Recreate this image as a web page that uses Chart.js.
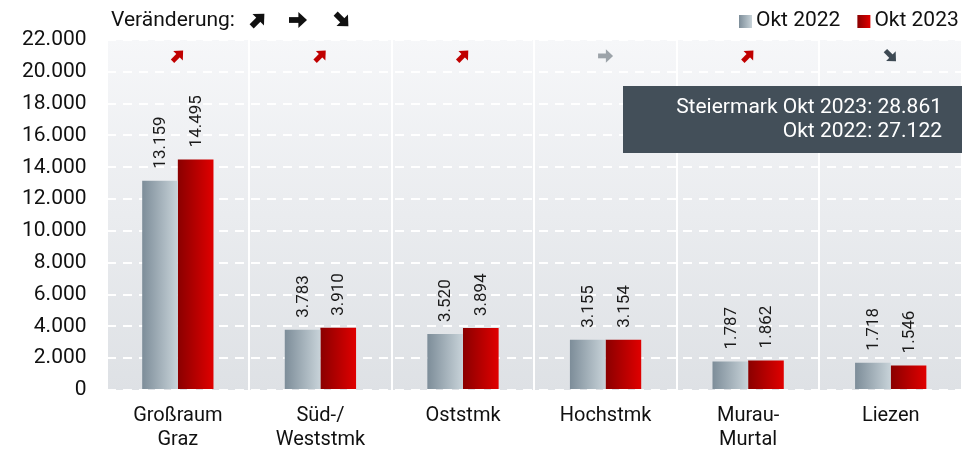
<!DOCTYPE html>
<html>
<head>
<meta charset="utf-8">
<title>Veränderung Okt 2022 / Okt 2023</title>
<script src="https://cdn.jsdelivr.net/npm/chart.js"></script>
<style>
  html, body { margin: 0; padding: 0; background: #fff; }
  #wrap { width: 978px; height: 449px; }
</style>
</head>
<body>
<div id="wrap"><canvas id="chart" width="978" height="449"></canvas></div>
<script>
// data
const regions = [["Großraum", "Graz"], ["Süd-/", "Weststmk"], "Oststmk", "Hochstmk", ["Murau-", "Murtal"], "Liezen"];
const okt2022 = [13159, 3783, 3520, 3155, 1787, 1718];
const okt2023 = [14495, 3910, 3894, 3154, 1862, 1546];
const trend = ["up", "up", "up", "flat", "up", "down"];
const seriesNames = ["Okt 2022", "Okt 2023"];
const totalLines = ["Steiermark Okt 2023: 28.861", "Okt 2022: 27.122"];
const yMax = 22000;
const yStep = 2000;

const FONT = "Roboto, 'Noto Sans', sans-serif";

function fmt(n) {
    return String(n).replace(/\B(?=(\d{3})+(?!\d))/g, ".");
}

const trendColor = { up: "#c00000", flat: "#9ca3a9", down: "#3e4a54" };
const trendAngle = { up: -Math.PI / 4, flat: 0, down: Math.PI / 4 };

function drawArrow(ctx, cx, cy, angle, size, color) {
    ctx.save();
    ctx.translate(cx, cy);
    ctx.rotate(angle);
    ctx.fillStyle = color;
    ctx.strokeStyle = color;
    ctx.lineWidth = size * 0.32;
    ctx.beginPath();
    ctx.moveTo(-size / 2, 0);
    ctx.lineTo(size * 0.15, 0);
    ctx.stroke();
    ctx.beginPath();
    ctx.moveTo(size / 2, 0);
    ctx.lineTo(size * 0.02, -size * 0.45);
    ctx.lineTo(size * 0.02, size * 0.45);
    ctx.closePath();
    ctx.fill();
    ctx.restore();
}

function barGradient(context, dsIndex) {
    const chart = context.chart;
    const xs = chart.scales.x;
    if (!xs || !chart.chartArea) return dsIndex === 0 ? "#a9b5bd" : "#c00000";
    const c = xs.getPixelForValue(context.dataIndex);
    const w = (xs.width / regions.length) * 0.5 / 2;
    const x0 = dsIndex === 0 ? c - w : c;
    const g = chart.ctx.createLinearGradient(x0, 0, x0 + w, 0);
    if (dsIndex === 0) {
        g.addColorStop(0, "#7d8d99");
        g.addColorStop(1, "#c8d3d9");
    } else {
        g.addColorStop(0, "#8a0000");
        g.addColorStop(1, "#e00000");
    }
    return g;
}

// plot background gradient
const bgPlugin = {
    id: "bg",
    beforeDraw(chart) {
        const { ctx, chartArea: a } = chart;
        const g = ctx.createLinearGradient(0, a.top, 0, a.bottom);
        g.addColorStop(0, "#f6f7f9");
        g.addColorStop(1, "#dee1e5");
        ctx.save();
        ctx.fillStyle = g;
        ctx.fillRect(a.left, a.top, a.right - a.left, a.bottom - a.top);
        ctx.restore();
    }
};

// rotated value labels, trend arrows, total box, header
const overlayPlugin = {
    id: "overlay",
    afterDatasetsDraw(chart) {
        const { ctx, chartArea: a } = chart;
        const xs = chart.scales.x, ys = chart.scales.y;
        ctx.save();
        ctx.font = "17px " + FONT;
        ctx.fillStyle = "#1a1a1a";
        ctx.textAlign = "left";
        ctx.textBaseline = "middle";
        chart.data.datasets.forEach((ds, di) => {
            chart.getDatasetMeta(di).data.forEach((bar, i) => {
                ctx.save();
                ctx.translate(bar.x, bar.y - 12);
                ctx.rotate(-Math.PI / 2);
                ctx.fillText(fmt(ds.data[i]), 0, 1);
                ctx.restore();
            });
        });

        // trend arrows per region
        trend.forEach((t, i) => {
            drawArrow(ctx, xs.getPixelForValue(i), ys.getPixelForValue(21000), trendAngle[t], 15, trendColor[t]);
        });

        // total box
        const bx = 623, by = 86, bw = a.right - bx, bh = 67;
        ctx.fillStyle = "#434f59";
        ctx.fillRect(bx, by, bw, bh);
        ctx.fillStyle = "#fff";
        ctx.font = "21px " + FONT;
        ctx.textAlign = "right";
        ctx.fillText(totalLines[0], a.right - 20, by + 22);
        ctx.fillText(totalLines[1], a.right - 20, by + 46);

        // header: Veränderung + arrows
        ctx.fillStyle = "#111";
        ctx.textAlign = "left";
        ctx.font = "21px " + FONT;
        ctx.fillText("Veränderung:", 111, 21);
        drawArrow(ctx, 258, 20, trendAngle.up, 18, "#111");
        drawArrow(ctx, 298, 20, trendAngle.flat, 18, "#111");
        drawArrow(ctx, 342, 20, trendAngle.down, 18, "#111");

        // legend
        let lx = 739;
        const cols = [["#7d8d99", "#c8d3d9"], ["#8a0000", "#e00000"]];
        seriesNames.forEach((name, k) => {
            const g = ctx.createLinearGradient(lx, 0, lx + 13, 0);
            g.addColorStop(0, cols[k][0]);
            g.addColorStop(1, cols[k][1]);
            ctx.fillStyle = g;
            ctx.fillRect(lx, 15, 13, 13);
            ctx.fillStyle = "#111";
            ctx.fillText(name, lx + 17, 21);
            lx += 17 + ctx.measureText(name).width + 17;
        });
        ctx.restore();
    }
};

new Chart(document.getElementById("chart"), {
    type: "bar",
    data: {
        labels: regions,
        datasets: [
            { label: seriesNames[0], data: okt2022, backgroundColor: c => barGradient(c, 0) },
            { label: seriesNames[1], data: okt2023, backgroundColor: c => barGradient(c, 1) }
        ]
    },
    options: {
        responsive: false,
        animation: false,
        layout: { padding: { top: 40, right: 16, left: 2, bottom: 0 } },
        datasets: { bar: { categoryPercentage: 0.5, barPercentage: 1.0 } },
        plugins: { legend: { display: false }, tooltip: { enabled: false } },
        scales: {
            x: {
                offset: true,
                afterFit: s => { s.height = 59; },
                grid: { display: true, offset: true, color: "#ffffff", lineWidth: 2, drawTicks: false },
                border: { display: false },
                ticks: { color: "#111", font: { family: FONT, size: 20, lineHeight: 1.2 }, padding: 14, maxRotation: 0 }
            },
            y: {
                min: 0,
                max: yMax,
                grid: { color: "#ffffff", lineWidth: 2, drawTicks: false },
                border: { display: false, dash: [9, 7] },
                ticks: {
                    stepSize: yStep,
                    color: "#111",
                    font: { family: FONT, size: 21 },
                    padding: 20,
                    callback: v => fmt(v)
                }
            }
        }
    },
    plugins: [bgPlugin, overlayPlugin]
});
</script>
</body>
</html>
